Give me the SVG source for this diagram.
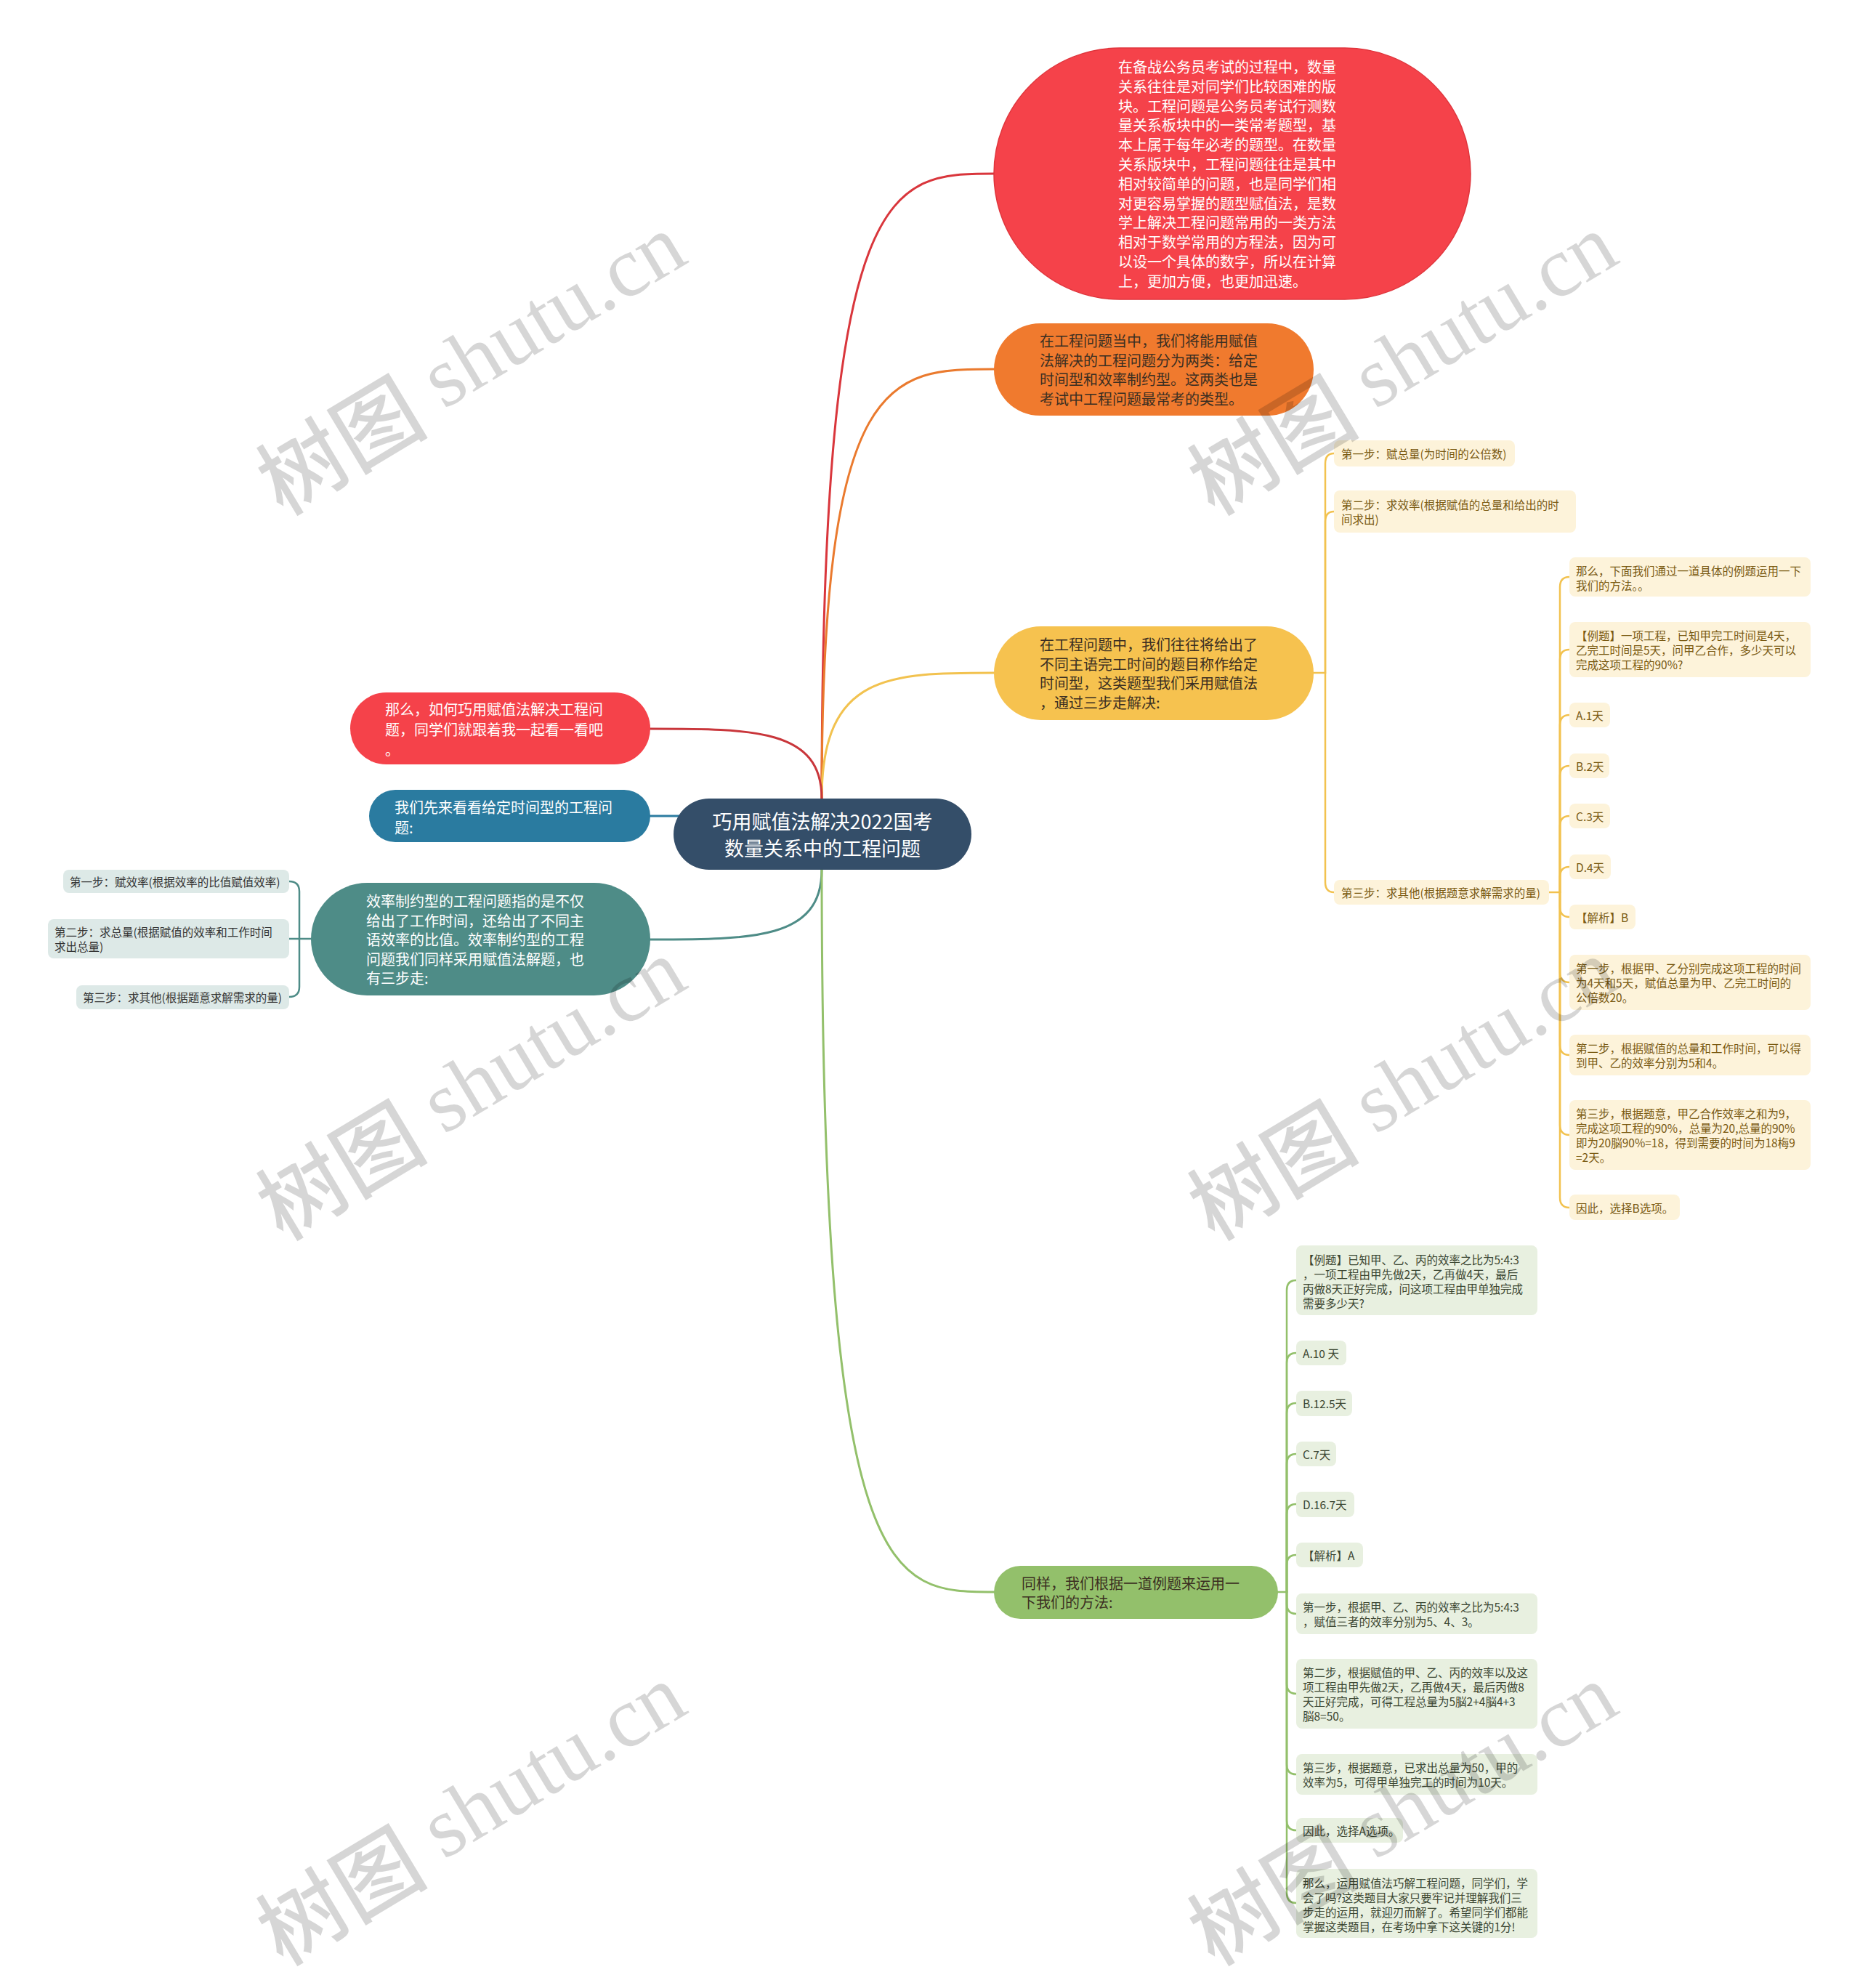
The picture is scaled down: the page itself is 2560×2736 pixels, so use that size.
<svg xmlns="http://www.w3.org/2000/svg" width="2560" height="2736" viewBox="0 0 2560 2736">
<style>
text{font-family:"Noto Sans CJK SC","Liberation Sans",sans-serif;dominant-baseline:central}
.t27{font-size:27px}
.t20{font-size:20px}
.t16{font-size:15.5px}
.wt{fill:#ffffff}
.dk{fill:#3b2f22}
.yl rect{fill:#fdf3da}
.yl text{fill:#7a5a12}
.gl rect{fill:#e8f0e0}
.gl text{fill:#3b4632}
.tl rect{fill:#dde9e7}
.tl text{fill:#333333}
.c{fill:none;stroke-linecap:round}
.wm{font-size:118px;fill:#000;fill-opacity:0.16}
.wm .en{font-family:"Liberation Serif",serif}
.wm .cn{font-family:"Noto Sans CJK SC",serif;font-weight:500}
</style>
<rect x="0" y="0" width="2560" height="2736" fill="#ffffff"/>

<g id="connectors">
  <path class="c" stroke="#d9363c" stroke-width="3" d="M1131 1099 C1131 239 1226 239 1368 239"/>
  <path class="c" stroke="#ea7a2e" stroke-width="3" d="M1131 1099 C1131 508 1226 508 1368 508"/>
  <path class="c" stroke="#f2c24f" stroke-width="3" d="M1131 1099 C1131 926 1226 926 1368 926"/>
  <path class="c" stroke="#c9363b" stroke-width="3" d="M1131 1099 C1131 1003 1037 1003 895 1003"/>
  <path class="c" stroke="#2b7ba0" stroke-width="3" d="M895 1123 L960 1123"/>
  <path class="c" stroke="#4e8c87" stroke-width="3" d="M1131 1197 C1131 1293 1037 1293 895 1293"/>
  <path class="c" stroke="#93c06b" stroke-width="3" d="M1131 1197 C1131 2191 1226 2191 1368 2191"/>

  <g stroke="#f2c24f" stroke-width="2.5" class="c">
    <path d="M1808 926 H1824 V638 Q1824 624 1836 624"/>
    <path d="M1824 926 V718 Q1824 704 1836 704"/>
    <path d="M1824 926 V1214 Q1824 1228 1836 1228"/>
    <path d="M2132 1228 H2147 V808 Q2147 794 2160 794"/>
    <path d="M2147 1228 V908 Q2147 894 2160 894"/>
    <path d="M2147 1228 V998 Q2147 984 2160 984"/>
    <path d="M2147 1228 V1068 Q2147 1054 2160 1054"/>
    <path d="M2147 1228 V1137 Q2147 1123 2160 1123"/>
    <path d="M2147 1228 V1207 Q2147 1193 2160 1193"/>
    <path d="M2147 1228 V1248 Q2147 1262 2160 1262"/>
    <path d="M2147 1228 V1338 Q2147 1352 2160 1352"/>
    <path d="M2147 1228 V1438 Q2147 1452 2160 1452"/>
    <path d="M2147 1228 V1548 Q2147 1562 2160 1562"/>
    <path d="M2147 1228 V1648 Q2147 1662 2160 1662"/>
  </g>
  <g stroke="#93c06b" stroke-width="2.5" class="c">
    <path d="M1759 2191 H1771 V1776 Q1771 1762 1784 1762"/>
    <path d="M1771 2191 V1876 Q1771 1862 1784 1862"/>
    <path d="M1771 2191 V1945 Q1771 1931 1784 1931"/>
    <path d="M1771 2191 V2015 Q1771 2001 1784 2001"/>
    <path d="M1771 2191 V2084 Q1771 2070 1784 2070"/>
    <path d="M1771 2191 V2154 Q1771 2140 1784 2140"/>
    <path d="M1771 2191 V2207 Q1771 2221 1784 2221"/>
    <path d="M1771 2191 V2317 Q1771 2331 1784 2331"/>
    <path d="M1771 2191 V2428 Q1771 2442 1784 2442"/>
    <path d="M1771 2191 V2505 Q1771 2519 1784 2519"/>
    <path d="M1771 2191 V2605 Q1771 2619 1784 2619"/>
  </g>
  <g stroke="#4e8c87" stroke-width="2.5" class="c">
    <path d="M428 1292 H412 V1227 Q412 1213 398 1213"/>
    <path d="M412 1292 H398"/>
    <path d="M412 1292 V1358 Q412 1372 398 1372"/>
  </g>
</g>

<g id="center">
  <rect x="927" y="1099" width="410" height="98" rx="49" fill="#344e69"/>
  <text class="t27 wt" x="1132" y="1129" text-anchor="middle">巧用赋值法解决2022国考</text>
  <text class="t27 wt" x="1132" y="1166" text-anchor="middle">数量关系中的工程问题</text>
</g>

<g id="n-intro">
  <rect x="1368" y="66" width="656" height="346" rx="173" fill="#f5424a" stroke="#e0353c" stroke-width="1.5"/>
  <g class="t20 wt">
    <text x="1539" y="91">在备战公务员考试的过程中，数量</text>
    <text x="1539" y="118">关系往往是对同学们比较困难的版</text>
    <text x="1539" y="145">块。工程问题是公务员考试行测数</text>
    <text x="1539" y="171">量关系板块中的一类常考题型，基</text>
    <text x="1539" y="198">本上属于每年必考的题型。在数量</text>
    <text x="1539" y="225">关系版块中，工程问题往往是其中</text>
    <text x="1539" y="252">相对较简单的问题，也是同学们相</text>
    <text x="1539" y="279">对更容易掌握的题型赋值法，是数</text>
    <text x="1539" y="305">学上解决工程问题常用的一类方法</text>
    <text x="1539" y="332">相对于数学常用的方程法，因为可</text>
    <text x="1539" y="359">以设一个具体的数字，所以在计算</text>
    <text x="1539" y="386">上，更加方便，也更加迅速。</text>
  </g>
</g>

<g id="n-types">
  <rect x="1368" y="445" width="440" height="127" rx="63.5" fill="#f07a2e"/>
  <g class="t20 dk">
    <text x="1431" y="468">在工程问题当中，我们将能用赋值</text>
    <text x="1431" y="495">法解决的工程问题分为两类：给定</text>
    <text x="1431" y="521">时间型和效率制约型。这两类也是</text>
    <text x="1431" y="548">考试中工程问题最常考的类型。</text>
  </g>
</g>

<g id="n-given-time">
  <rect x="1368" y="862" width="440" height="129" rx="64.5" fill="#f6c24f"/>
  <g class="t20 dk">
    <text x="1431" y="886">在工程问题中，我们往往将给出了</text>
    <text x="1431" y="913">不同主语完工时间的题目称作给定</text>
    <text x="1431" y="939">时间型，这类题型我们采用赋值法</text>
    <text x="1431" y="966">，通过三步走解决:</text>
  </g>
</g>

<g id="y-steps" class="yl t16">
  <g id="y1"><rect x="1836" y="606" width="249" height="36" rx="8"/><text x="1846" y="624">第一步：赋总量(为时间的公倍数)</text></g>
  <g id="y2"><rect x="1836" y="675" width="333" height="58" rx="8"/><text x="1846" y="694">第二步：求效率(根据赋值的总量和给出的时</text><text x="1846" y="714">间求出)</text></g>
  <g id="y3"><rect x="1836" y="1211" width="296" height="34" rx="8"/><text x="1846" y="1228">第三步：求其他(根据题意求解需求的量)</text></g>
</g>

<g id="y3-children" class="yl t16">
  <g id="ya"><rect x="2160" y="767" width="332" height="54" rx="8"/><text x="2169" y="785">那么，下面我们通过一道具体的例题运用一下</text><text x="2169" y="805">我们的方法。。</text></g>
  <g id="yb"><rect x="2160" y="856" width="332" height="76" rx="8"/><text x="2169" y="874">【例题】一项工程，已知甲完工时间是4天，</text><text x="2169" y="894">乙完工时间是5天，问甲乙合作，多少天可以</text><text x="2169" y="914">完成这项工程的90%?</text></g>
  <g id="yc"><rect x="2160" y="967" width="56" height="34" rx="8"/><text x="2169" y="984">A.1天</text></g>
  <g id="yd"><rect x="2160" y="1037" width="55" height="34" rx="8"/><text x="2169" y="1054">B.2天</text></g>
  <g id="ye"><rect x="2160" y="1106" width="56" height="34" rx="8"/><text x="2169" y="1123">C.3天</text></g>
  <g id="yf"><rect x="2160" y="1176" width="57" height="34" rx="8"/><text x="2169" y="1193">D.4天</text></g>
  <g id="yg"><rect x="2160" y="1245" width="91" height="34" rx="8"/><text x="2169" y="1262">【解析】B</text></g>
  <g id="yh"><rect x="2160" y="1314" width="332" height="76" rx="8"/><text x="2169" y="1332">第一步，根据甲、乙分别完成这项工程的时间</text><text x="2169" y="1352">为4天和5天，赋值总量为甲、乙完工时间的</text><text x="2169" y="1372">公倍数20。</text></g>
  <g id="yi"><rect x="2160" y="1424" width="332" height="56" rx="8"/><text x="2169" y="1442">第二步，根据赋值的总量和工作时间，可以得</text><text x="2169" y="1462">到甲、乙的效率分别为5和4。</text></g>
  <g id="yj"><rect x="2160" y="1514" width="332" height="96" rx="8"/><text x="2169" y="1532">第三步，根据题意，甲乙合作效率之和为9，</text><text x="2169" y="1552">完成这项工程的90%，总量为20,总量的90%</text><text x="2169" y="1572">即为20脳90%=18，得到需要的时间为18梅9</text><text x="2169" y="1592">=2天。</text></g>
  <g id="yk"><rect x="2160" y="1644" width="152" height="35" rx="8"/><text x="2169" y="1662">因此，选择B选项。</text></g>
</g>

<g id="n-left-red">
  <rect x="482" y="953" width="413" height="99" rx="49.5" fill="#f5424a"/>
  <g class="t20 wt">
    <text x="530" y="975">那么，如何巧用赋值法解决工程问</text>
    <text x="530" y="1003">题，同学们就跟着我一起看一看吧</text>
    <text x="530" y="1031">。</text>
  </g>
</g>

<g id="n-blue">
  <rect x="508" y="1087" width="387" height="72" rx="36" fill="#2a7ba0"/>
  <g class="t20 wt">
    <text x="543" y="1110">我们先来看看给定时间型的工程问</text>
    <text x="543" y="1138">题:</text>
  </g>
</g>

<g id="n-teal">
  <rect x="428" y="1215" width="467" height="155" rx="77.5" fill="#4e8c87"/>
  <g class="t20 wt">
    <text x="504" y="1239">效率制约型的工程问题指的是不仅</text>
    <text x="504" y="1266">给出了工作时间，还给出了不同主</text>
    <text x="504" y="1292">语效率的比值。效率制约型的工程</text>
    <text x="504" y="1319">问题我们同样采用赋值法解题，也</text>
    <text x="504" y="1345">有三步走:</text>
  </g>
</g>

<g id="teal-steps" class="tl t16">
  <g id="t1"><rect x="87" y="1197" width="311" height="32" rx="8"/><text x="96" y="1213">第一步：赋效率(根据效率的比值赋值效率)</text></g>
  <g id="t2"><rect x="66" y="1265" width="332" height="54" rx="8"/><text x="75" y="1282">第二步：求总量(根据赋值的效率和工作时间</text><text x="75" y="1302">求出总量)</text></g>
  <g id="t3"><rect x="105" y="1356" width="293" height="33" rx="8"/><text x="114" y="1372">第三步：求其他(根据题意求解需求的量)</text></g>
</g>

<g id="n-green">
  <rect x="1368" y="2155" width="391" height="73" rx="36.5" fill="#93c06b"/>
  <g class="t20 dk">
    <text x="1406" y="2178">同样，我们根据一道例题来运用一</text>
    <text x="1406" y="2204">下我们的方法:</text>
  </g>
</g>

<g id="green-children" class="gl t16">
  <g id="g1"><rect x="1784" y="1714" width="332" height="96" rx="8"/><text x="1793" y="1733">【例题】已知甲、乙、丙的效率之比为5:4:3</text><text x="1793" y="1753">，一项工程由甲先做2天，乙再做4天，最后</text><text x="1793" y="1773">丙做8天正好完成，问这项工程由甲单独完成</text><text x="1793" y="1793">需要多少天?</text></g>
  <g id="g2"><rect x="1784" y="1845" width="69" height="34" rx="8"/><text x="1793" y="1862">A.10 天</text></g>
  <g id="g3"><rect x="1784" y="1914" width="77" height="35" rx="8"/><text x="1793" y="1931">B.12.5天</text></g>
  <g id="g4"><rect x="1784" y="1984" width="55" height="34" rx="8"/><text x="1793" y="2001">C.7天</text></g>
  <g id="g5"><rect x="1784" y="2053" width="80" height="35" rx="8"/><text x="1793" y="2070">D.16.7天</text></g>
  <g id="g6"><rect x="1784" y="2123" width="92" height="34" rx="8"/><text x="1793" y="2140">【解析】A</text></g>
  <g id="g7"><rect x="1784" y="2193" width="332" height="56" rx="8"/><text x="1793" y="2211">第一步，根据甲、乙、丙的效率之比为5:4:3</text><text x="1793" y="2231">，赋值三者的效率分别为5、4、3。</text></g>
  <g id="g8"><rect x="1784" y="2283" width="332" height="96" rx="8"/><text x="1793" y="2301">第二步，根据赋值的甲、乙、丙的效率以及这</text><text x="1793" y="2321">项工程由甲先做2天，乙再做4天，最后丙做8</text><text x="1793" y="2341">天正好完成，可得工程总量为5脳2+4脳4+3</text><text x="1793" y="2361">脳8=50。</text></g>
  <g id="g9"><rect x="1784" y="2414" width="332" height="56" rx="8"/><text x="1793" y="2432">第三步，根据题意，已求出总量为50，甲的</text><text x="1793" y="2452">效率为5，可得甲单独完工的时间为10天。</text></g>
  <g id="g10"><rect x="1784" y="2502" width="147" height="34" rx="8"/><text x="1793" y="2519">因此，选择A选项。</text></g>
  <g id="g11"><rect x="1784" y="2572" width="332" height="95" rx="8"/><text x="1793" y="2591">那么，运用赋值法巧解工程问题，同学们，学</text><text x="1793" y="2611">会了吗?这类题目大家只要牢记并理解我们三</text><text x="1793" y="2631">步走的运用，就迎刃而解了。希望同学们都能</text><text x="1793" y="2651">掌握这类题目，在考场中拿下这关键的1分!</text></g>
</g>

<g id="watermark" class="wm">
  <text transform="translate(646 496) rotate(-31)" text-anchor="middle"><tspan class="cn">树图</tspan><tspan class="en"> shutu.cn</tspan></text>
  <text transform="translate(1928 496) rotate(-31)" text-anchor="middle"><tspan class="cn">树图</tspan><tspan class="en"> shutu.cn</tspan></text>
  <text transform="translate(646 1494) rotate(-31)" text-anchor="middle"><tspan class="cn">树图</tspan><tspan class="en"> shutu.cn</tspan></text>
  <text transform="translate(1928 1494) rotate(-31)" text-anchor="middle"><tspan class="cn">树图</tspan><tspan class="en"> shutu.cn</tspan></text>
  <text transform="translate(646 2492) rotate(-31)" text-anchor="middle"><tspan class="cn">树图</tspan><tspan class="en"> shutu.cn</tspan></text>
  <text transform="translate(1928 2492) rotate(-31)" text-anchor="middle"><tspan class="cn">树图</tspan><tspan class="en"> shutu.cn</tspan></text>
</g>
</svg>
